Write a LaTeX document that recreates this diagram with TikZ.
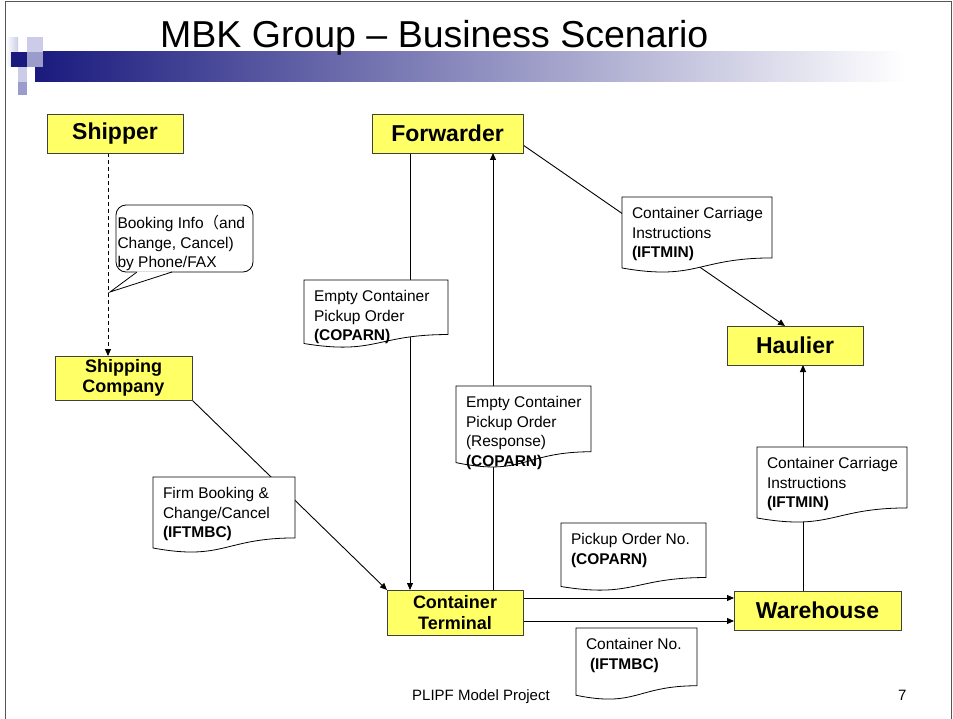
\documentclass[tikz,border=0pt]{standalone}
\usepackage{fontspec}
\setmainfont{Liberation Sans}
\newfontfamily\cjkfont{Noto Sans CJK SC}
\usetikzlibrary{arrows.meta,calc}
\definecolor{boxyellow}{HTML}{FFFF66}
\definecolor{boxedge}{HTML}{404040}
\definecolor{navyband}{HTML}{1A1A7E}
\definecolor{lavlight}{HTML}{CCCCE8}
\definecolor{lavmid}{HTML}{9C9CCC}
\definecolor{framegray}{HTML}{555555}
\pgfdeclarelayer{bg}
\pgfdeclarelayer{lines}
\pgfdeclarelayer{docs}
\pgfsetlayers{bg,lines,docs,main}
\newcommand\docshape[4]{%
  \filldraw[docline] (#1,#2) -- ++(#3,0) -- ++(0,{0.802*#4})
    .. controls ({#1+0.5*#3},{#2+0.802*#4}) and ({#1+0.5*#3},{#2+1.107*#4}) ..
    (#1,{#2+0.934*#4}) -- cycle;}
\tikzset{
  entity/.style={draw=boxedge, line width=0.9pt, fill=boxyellow, inner sep=0pt, outer sep=0pt,
    align=center, font=\bfseries\fontsize{23}{26}\selectfont},
  entitytwo/.style={entity, font=\bfseries\fontsize{18}{20.5}\selectfont},
  conn/.style={draw=black, line width=0.9pt, -{Triangle[length=7pt,width=6pt]}},
  dashconn/.style={conn, dash pattern=on 4pt off 3pt},
  docline/.style={draw=black, line width=0.8pt, fill=white},
  doctext/.style={anchor=north west, align=left, inner xsep=10pt, inner ysep=0pt, outer sep=0pt,
    font=\fontsize{15.5}{19.5}\selectfont},
}
\begin{document}
\begin{tikzpicture}[x=1pt,y=-1pt]
\useasboundingbox (0,0) rectangle (953,719);
\begin{pgfonlayer}{bg}
\fill[white] (0,0) rectangle (953,719);
\end{pgfonlayer}
% frame
\draw[framegray, line width=1pt] (5.5,719) -- (5.5,1.5) -- (951.5,1.5) -- (951.5,719);
% header band
\shade[left color=navyband, right color=white] (35,52) rectangle (905,82);
\shade[left color=white, right color=lavlight] (6,38) rectangle (18,67);
\fill[lavlight] (27,37) rectangle (43,52);
\fill[navyband] (11,52) rectangle (27,67);
\fill[lavmid] (27,52) rectangle (43,67);
\fill[lavlight] (18,67) rectangle (27,82);
\fill[lavmid] (18,82) rectangle (27,95);
\node[anchor=base west, inner sep=0pt, font=\fontsize{37.5}{40}\selectfont] (title) at (160,48) {MBK Group – Business Scenario};

% entities
\node[entity, minimum width=136pt, minimum height=39pt] (shipper) at (115,133.5) {Shipper};
\node[entity, minimum width=151pt, minimum height=39pt] (fwd) at (447.5,133.5) {Forwarder};
\node[entitytwo, minimum width=137pt, minimum height=44pt] (shipco) at (123.5,378) {Shipping\\Company};
\node[entity, minimum width=136pt, minimum height=39pt] (haul) at (795,345.5) {Haulier};
\node[entitytwo, minimum width=136pt, minimum height=45pt] (ct) at (455,612.5) {Container\\Terminal};
\node[entity, minimum width=167pt, minimum height=39pt] (wh) at (817.5,610.5) {Warehouse};

% connectors
\begin{pgfonlayer}{lines}
\draw[dashconn] ([xshift=-7pt]shipper.south) -- ([xshift=-7pt]shipper.south |- shipco.north);
\draw[conn] (shipco.south east) -- (ct.north west);
\draw[conn] ([xshift=-37.5pt]fwd.south) -- ([xshift=-37.5pt]fwd.south |- ct.north);
\draw[conn] ([xshift=38pt]ct.north) -- ([xshift=38pt]ct.north |- fwd.south);
\draw[conn] ([yshift=-11.5pt]fwd.east) -- ([xshift=-10pt]haul.north);
\draw[conn] ([xshift=-14.5pt]wh.north) -- ([xshift=-14.5pt]wh.north |- haul.south);
\draw[conn] ([yshift=14.5pt]ct.east) -- ([yshift=14.5pt]ct.east -| wh.west);
\draw[conn] ([yshift=-8.5pt]ct.east) -- ([yshift=-8.5pt]ct.east -| wh.west);
\end{pgfonlayer}

% document shapes and callout
\begin{pgfonlayer}{docs}
\filldraw[docline, rounded corners=10pt] (116,205) rectangle (253,272);
\fill[white] (137,271.3) -- (110,292) -- (172,271.3) -- cycle;
\draw[black, line width=0.8pt] (137,272) -- (110,292) -- (172,272);
\docshape{622}{197}{150}{76}
\docshape{757}{447}{150}{76}
\docshape{304}{280}{144}{68}
\docshape{456}{386}{135}{82}
\docshape{153}{477}{142}{76}
\docshape{561}{523}{145}{68}
\docshape{576}{628}{121}{72}
\end{pgfonlayer}

% texts of labels
\node[doctext, inner xsep=1.5pt] (bubble) at (116,215.5) {Booking Info{\cjkfont （}and\\Change, Cancel)\\by Phone/FAX};
\node[doctext] (cci1) at (622,207.5) {Container Carriage\\Instructions\\\textbf{(IFTMIN)}};
\node[doctext] (cci2) at (757,457.5) {Container Carriage\\Instructions\\\textbf{(IFTMIN)}};
\node[doctext] (eco1) at (304,290.5) {Empty Container\\Pickup Order\\\textbf{(COPARN)}};
\node[doctext] (eco2) at (456,396.5) {Empty Container\\Pickup Order\\(Response)\\\textbf{(COPARN)}};
\node[doctext] (firm) at (153,487.5) {Firm Booking \&\\Change/Cancel\\\textbf{(IFTMBC)}};
\node[doctext] (pon) at (561,533.5) {Pickup Order No.\\\textbf{(COPARN)}};
\node[doctext] (cno) at (576,638.5) {Container No.\\\hspace*{4pt}\textbf{(IFTMBC)}};

% footer
\node[anchor=base west, inner sep=0pt, font=\fontsize{15}{18}\selectfont] (footer) at (412,700) {PLIPF Model Project};
\node[anchor=base west, inner sep=0pt, font=\fontsize{15}{18}\selectfont] (pageno) at (898,700) {7};
\end{tikzpicture}
\end{document}
